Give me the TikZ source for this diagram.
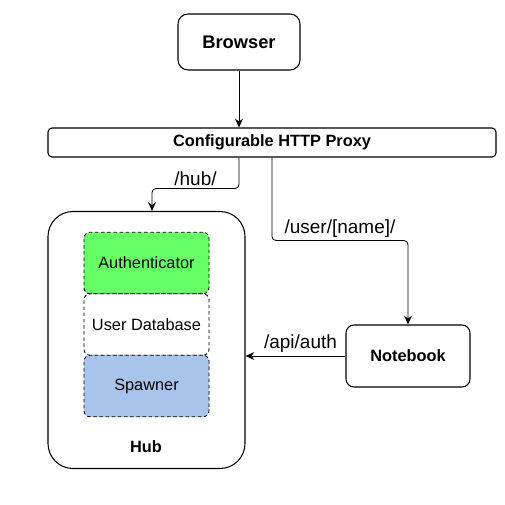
\documentclass[tikz,border=0pt]{standalone}
\usepackage{fontspec}
\setmainfont{Liberation Sans}
\usepackage{tikz}
\usetikzlibrary{arrows.meta, positioning}
\definecolor{authgreen}{HTML}{66FF66}
\definecolor{spawnblue}{HTML}{A9C4EB}

\begin{document}
\begin{tikzpicture}[
    every node/.style={font=\fontsize{9.3}{11}\selectfont},
    box/.style={draw, rounded corners=0.16cm, line width=0.6pt, font=\fontsize{9.3}{11}\selectfont\bfseries},
    part/.style={draw, dash pattern=on 2pt off 1.5pt, line width=0.5pt, rounded corners=0.12cm,
        minimum width=2.5cm, minimum height=1.23cm},
    arrow/.style={-{Stealth[length=5pt, width=4.5pt]}, line width=0.5pt, rounded corners=0.08cm},
    route/.style={font=\fontsize{10.8}{13}\selectfont, inner sep=1.5pt}
]
\useasboundingbox (0,0) rectangle (10.1,-10.1);
\node[box, rounded corners=0.2cm, font=\fontsize{10.4}{12}\selectfont\bfseries,
    minimum width=2.44cm, minimum height=1.12cm] (browser) at (4.78,-0.84) {Browser};
\node[box, rounded corners=0.08cm, minimum width=8.96cm, minimum height=0.58cm] (proxy) at (5.44,-2.85) {Configurable HTTP Proxy};
\node[box, rounded corners=0.5cm, minimum width=3.94cm, minimum height=5.14cm] (hub) at (2.93,-6.8) {};
\node[part, fill=authgreen] (auth) at (2.93,-5.26) {Authenticator};
\node[part] (userdb) at (2.93,-6.49) {User Database};
\node[part, fill=spawnblue] (spawner) at (2.93,-7.72) {Spawner};
\node[font=\fontsize{9.3}{11}\selectfont\bfseries] (hublabel) at (2.92,-8.94) {Hub};
\node[box, minimum width=2.48cm, minimum height=1.24cm] (notebook) at (8.16,-7.12) {Notebook};
\draw[arrow] (browser) -- (browser |- proxy.north);
\draw[arrow] (proxy.south -| browser) -- ++(0,-0.62) -| node[route, pos=0.25, above] {/hub/} ([xshift=0.11cm]hub.north);
\draw[arrow] (proxy.south) -- ++(0,-1.66) -| node[route, pos=0.25, above] {/user/[name]/} (notebook.north);
\draw[arrow] (notebook.west) -- node[route, above, xshift=0.1cm] {/api/auth} (notebook.west -| hub.east);
\end{tikzpicture}
\end{document}
